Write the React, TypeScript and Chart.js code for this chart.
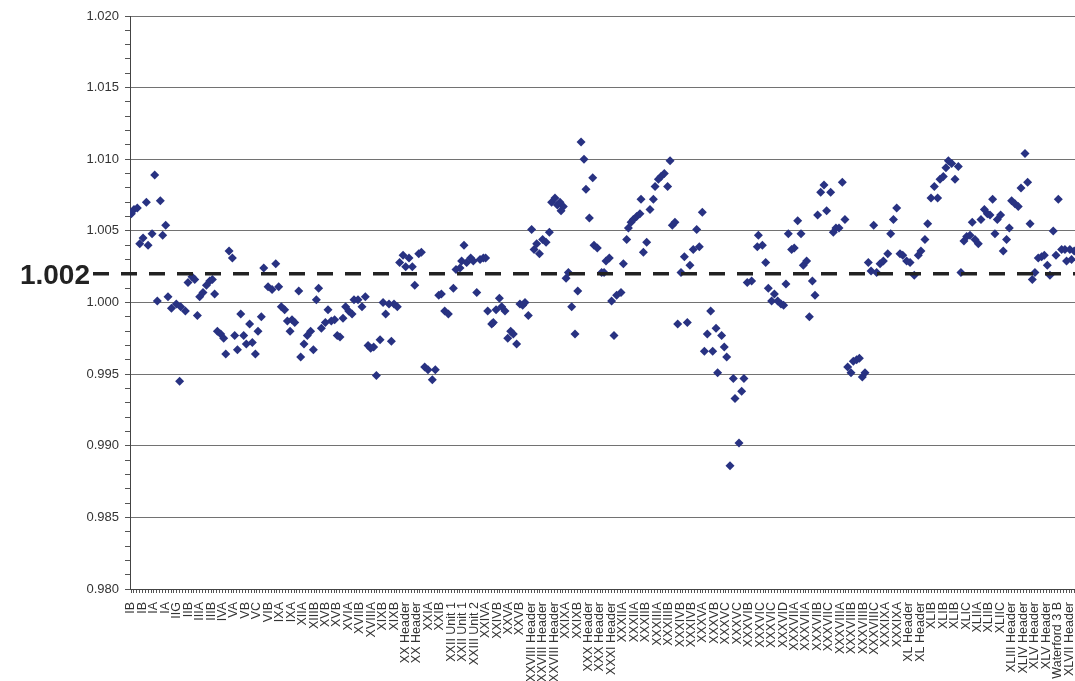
import { useEffect, useRef } from "react";
import { Chart, registerables } from "chart.js";

Chart.register(...registerables);

// Category labels along the x axis (one per labelled slot)
const categoryLabels = [
  "IB", "IB", "IA", "IA", "IIG", "IIB", "IIIA", "IIIB", "IVA", "VA",
  "VB", "VC", "VIB", "IXA", "IXA", "XIIA", "XIIIB", "XVB", "XVB", "XVIA",
  "XVIIB", "XVIIIA", "XIXB", "XIXB", "XX Header", "XX Header", "XXIA", "XXIB", "XXII Unit 1", "XXII Unit 1",
  "XXIII Unit 2", "XXIVA", "XXIVB", "XXVA", "XXVB", "XXVIII Header", "XXVIII Header", "XXVIII Header", "XXIXA", "XXIXB",
  "XXX Header", "XXX Header", "XXXI Header", "XXXIIA", "XXXIIA", "XXXIIB", "XXXIIIA", "XXXIIIB", "XXXIVB", "XXXIVB",
  "XXXVA", "XXXVB", "XXXVC", "XXXVC", "XXXVIB", "XXXVIC", "XXXVIC", "XXXVID", "XXXVIIA", "XXXVIIA",
  "XXXVIIB", "XXXVIIC", "XXXVIIIA", "XXXVIIIB", "XXXVIIIB", "XXXVIIIC", "XXXIXA", "XXXIXA", "XL Header", "XL Header",
  "XLIB", "XLIB", "XLIB", "XLIC", "XLIIA", "XLIIB", "XLIIC", "XLIII Header", "XLIV Header", "XLV Header",
  "XLV Header", "Waterford 3 B", "XLVII Header",
];

// Reference ratio drawn as the dashed line
const referenceRatio = 1.002;

// Y axis range and tick spacing
const yMin = 0.98;
const yMax = 1.02;
const yMinorStep = 0.001;

// Measurements: position along the category axis (in label slots) and ratio
const slotsUnitsI_XXI = [
  0.03, 0.26, 0.55, 1.34, 2.07, 2.56, 3.03, 2.77, 1.84, 1.05,
  0.76, 1.49, 2.30, 3.23, 3.53, 3.96, 4.34, 4.75, 4.25, 4.98,
  5.33, 5.57, 5.80, 6.00, 6.29, 6.59, 6.88, 7.11, 7.31, 7.55,
  7.84, 8.10, 8.28, 8.57, 8.86, 9.06, 9.30, 9.59, 9.85, 10.08,
  10.37, 10.60, 10.87, 11.10, 11.39, 11.60, 11.98, 12.33, 12.65, 12.91,
  13.14, 13.43, 13.67, 14.07, 14.31, 13.90, 14.66, 14.83, 15.12, 15.41,
  15.70, 15.94, 16.20, 16.40, 16.64, 16.99, 17.22, 17.51, 17.80, 18.03,
  18.27, 18.53, 18.76, 19.03, 19.32, 19.49, 19.84, 20.19, 20.48, 20.72,
  20.95, 21.21, 21.45, 21.77, 22.03, 22.26, 22.55, 22.76, 22.99, 23.28,
  23.48, 23.78, 24.01, 24.30, 24.59, 24.80, 25.15, 25.38, 25.67, 25.96,
  26.34, 26.60, 26.90, 27.13, 27.42,
];
const ratiosUnitsI_XXI = [
  1.0062, 1.0065, 1.0066, 1.0070, 1.0089, 1.0071, 1.0054, 1.0047, 1.0048, 1.0045,
  1.0041, 1.0040, 1.0001, 1.0004, 0.9996, 0.9999, 0.9997, 0.9994, 0.9945, 1.0014,
  1.0018, 1.0016, 0.9991, 1.0004, 1.0007, 1.0012, 1.0015, 1.0016, 1.0006, 0.9980,
  0.9978, 0.9975, 0.9964, 1.0036, 1.0031, 0.9977, 0.9967, 0.9992, 0.9977, 0.9971,
  0.9985, 0.9972, 0.9964, 0.9980, 0.9990, 1.0024, 1.0011, 1.0009, 1.0027, 1.0011,
  0.9997, 0.9995, 0.9987, 0.9988, 0.9986, 0.9980, 1.0008, 0.9962, 0.9971, 0.9977,
  0.9980, 0.9967, 1.0002, 1.0010, 0.9982, 0.9986, 0.9995, 0.9987, 0.9988, 0.9977,
  0.9976, 0.9989, 0.9997, 0.9994, 0.9992, 1.0002, 1.0002, 0.9997, 1.0004, 0.9970,
  0.9968, 0.9969, 0.9949, 0.9974, 1.0000, 0.9992, 0.9999, 0.9973, 0.9999, 0.9997,
  1.0028, 1.0033, 1.0025, 1.0031, 1.0025, 1.0012, 1.0034, 1.0035, 0.9955, 0.9953,
  0.9946, 0.9953, 1.0005, 1.0006, 0.9994,
];

const slotsUnitsXXI_XXXVI = [
  27.74, 28.18, 28.41, 28.76, 28.90, 29.11, 29.34, 29.69, 29.92, 30.22,
  30.51, 30.80, 31.00, 31.18, 31.53, 31.67, 31.91, 32.20, 32.40, 32.69,
  32.93, 33.19, 33.42, 33.71, 34.00, 34.24, 34.44, 34.73, 35.02, 35.23,
  35.46, 35.70, 35.98, 36.28, 36.57, 36.77, 37.06, 37.27, 37.50, 37.79,
  37.59, 38.03, 38.23, 38.52, 38.81, 39.05, 39.34, 39.60, 39.77, 40.36,
  40.07, 40.47, 40.76, 41.14, 41.35, 41.52, 41.81, 42.01, 42.22, 42.45,
  42.83, 43.04, 43.33, 43.48, 43.71, 43.91, 44.20, 44.49, 44.58, 44.79,
  45.08, 45.37, 45.66, 45.81, 46.10, 46.33, 46.62, 46.91, 47.12, 47.32,
  47.55, 47.79, 48.08, 48.37, 48.63, 48.86, 49.15, 49.45, 49.68, 49.94,
  50.12, 50.38, 50.67, 50.85, 51.14, 51.28, 51.63, 51.86, 52.07, 52.36,
  52.65, 52.80, 53.15, 53.38, 53.58, 53.87, 54.25, 54.75, 54.84,
];
const ratiosUnitsXXI_XXXVI = [
  0.9992, 1.0010, 1.0023, 1.0024, 1.0029, 1.0040, 1.0028, 1.0031, 1.0029, 1.0007,
  1.0030, 1.0031, 1.0031, 0.9994, 0.9985, 0.9986, 0.9995, 1.0003, 0.9997, 0.9994,
  0.9975, 0.9980, 0.9978, 0.9971, 0.9999, 0.9998, 1.0000, 0.9991, 1.0051, 1.0037,
  1.0041, 1.0034, 1.0044, 1.0042, 1.0049, 1.0070, 1.0073, 1.0068, 1.0070, 1.0067,
  1.0064, 1.0017, 1.0021, 0.9997, 0.9978, 1.0008, 1.0112, 1.0100, 1.0079, 1.0087,
  1.0059, 1.0040, 1.0038, 1.0021, 1.0021, 1.0029, 1.0031, 1.0001, 0.9977, 1.0005,
  1.0007, 1.0027, 1.0044, 1.0052, 1.0056, 1.0058, 1.0060, 1.0062, 1.0072, 1.0035,
  1.0042, 1.0065, 1.0072, 1.0081, 1.0086, 1.0088, 1.0090, 1.0081, 1.0099, 1.0054,
  1.0056, 0.9985, 1.0021, 1.0032, 0.9986, 1.0026, 1.0037, 1.0051, 1.0039, 1.0063,
  0.9966, 0.9978, 0.9994, 0.9966, 0.9982, 0.9951, 0.9977, 0.9969, 0.9962, 0.9886,
  0.9947, 0.9933, 0.9902, 0.9938, 0.9947, 1.0014, 1.0015, 1.0039, 1.0047,
];

const slotsUnitsXXXVI_XLVII = [
  55.19, 55.48, 55.71, 56.00, 56.24, 56.53, 56.82, 57.05, 57.25, 57.46,
  57.75, 57.98, 58.28, 58.57, 58.77, 59.06, 59.30, 59.56, 59.79, 60.02,
  60.29, 60.58, 60.81, 61.16, 61.39, 61.62, 61.89, 62.18, 62.41, 62.65,
  62.94, 63.14, 63.43, 63.67, 63.93, 64.16, 64.45, 64.69, 64.92, 65.18,
  65.48, 65.77, 66.15, 66.41, 66.65, 66.93, 67.22, 67.46, 67.80, 68.10,
  68.47, 68.82, 69.05, 69.40, 69.64, 69.93, 70.22, 70.51, 70.72, 71.01,
  71.24, 71.45, 71.74, 72.03, 72.32, 72.55, 72.81, 73.05, 73.34, 73.54,
  73.78, 74.07, 74.30, 74.60, 74.86, 75.09, 75.32, 75.52, 75.73, 76.02,
  76.25, 76.54, 76.78, 76.98, 77.27, 77.56, 77.80, 78.15, 78.38, 78.59,
  78.79, 79.02, 79.31, 79.60, 79.84, 80.10, 80.33, 80.62, 80.86, 81.06,
  81.35, 81.64, 81.78, 82.07, 82.22, 82.45,
];
const ratiosUnitsXXXVI_XLVII = [
  1.0040, 1.0028, 1.0010, 1.0001, 1.0006, 1.0001, 0.9999, 0.9998, 1.0013, 1.0048,
  1.0037, 1.0038, 1.0057, 1.0048, 1.0026, 1.0029, 0.9990, 1.0015, 1.0005, 1.0061,
  1.0077, 1.0082, 1.0064, 1.0077, 1.0049, 1.0052, 1.0052, 1.0084, 1.0058, 0.9955,
  0.9951, 0.9959, 0.9960, 0.9961, 0.9948, 0.9951, 1.0028, 1.0022, 1.0054, 1.0021,
  1.0027, 1.0029, 1.0034, 1.0048, 1.0058, 1.0066, 1.0034, 1.0033, 1.0029, 1.0028,
  1.0019, 1.0033, 1.0036, 1.0044, 1.0055, 1.0073, 1.0081, 1.0073, 1.0086, 1.0088,
  1.0094, 1.0099, 1.0097, 1.0086, 1.0095, 1.0021, 1.0043, 1.0046, 1.0047, 1.0056,
  1.0044, 1.0041, 1.0058, 1.0065, 1.0062, 1.0061, 1.0072, 1.0048, 1.0058, 1.0061,
  1.0036, 1.0044, 1.0052, 1.0071, 1.0069, 1.0067, 1.0080, 1.0104, 1.0084, 1.0055,
  1.0016, 1.0021, 1.0031, 1.0032, 1.0033, 1.0026, 1.0019, 1.0050, 1.0033, 1.0072,
  1.0037, 1.0037, 1.0029, 1.0037, 1.0030, 1.0036,
];

const FONT_FAMILY = 'Arial, "Liberation Sans", Helvetica, sans-serif';
const MARKER_COLOR = "#283282";

// Labels and gridlines every 0.005; minor tick marks every 0.001
const isMajor = (v: number) => Math.round(v * 1000) % 5 === 0;

// Dashed reference line with its bold value label at the left margin
const referenceLinePlugin = {
  id: "referenceLine",
  afterDatasetsDraw(chart: any) {
    const { ctx, chartArea, scales } = chart;
    const y = scales.y.getPixelForValue(referenceRatio);
    ctx.save();
    ctx.strokeStyle = "#222";
    ctx.lineWidth = 3.5;
    ctx.setLineDash([16, 12]);
    ctx.beginPath();
    ctx.moveTo(chartArea.left - 37, y);
    ctx.lineTo(chartArea.right, y);
    ctx.stroke();
    ctx.setLineDash([]);
    ctx.fillStyle = "#222";
    ctx.font = `bold 28px ${FONT_FAMILY}`;
    ctx.textAlign = "right";
    ctx.textBaseline = "alphabetic";
    ctx.fillText(referenceRatio.toFixed(3), chartArea.left - 40, y + 10);
    ctx.restore();
  },
};

export default function App() {
  const canvasRef = useRef<HTMLCanvasElement>(null);

  useEffect(() => {
    const points: { x: number; y: number }[] = [];
    const groups: [number[], number[]][] = [
      [slotsUnitsI_XXI, ratiosUnitsI_XXI],
      [slotsUnitsXXI_XXXVI, ratiosUnitsXXI_XXXVI],
      [slotsUnitsXXXVI_XLVII, ratiosUnitsXXXVI_XLVII],
    ];
    for (const [xs, ys] of groups) {
      xs.forEach((x, i) => points.push({ x, y: ys[i] }));
    }

    const chart = new Chart(canvasRef.current!, {
      type: "scatter",
      data: {
        datasets: [
          {
            data: points,
            pointStyle: "rectRot",
            pointRadius: 4.5,
            pointBorderWidth: 0,
            backgroundColor: MARKER_COLOR,
            borderColor: MARKER_COLOR,
          },
        ],
      },
      options: {
        animation: false,
        responsive: false,
        maintainAspectRatio: false,
        layout: {
          autoPadding: false,
          padding: { top: 16, left: 0, right: 0, bottom: 0 },
        },
        plugins: {
          legend: { display: false },
          tooltip: { enabled: false },
        },
        scales: {
          x: {
            type: "linear",
            min: -0.09,
            max: 82.52,
            afterFit(scale: any) {
              scale.height = 92;
              scale.paddingLeft = 0;
              scale.paddingRight = 0;
            },
            ticks: {
              stepSize: 0.25,
              includeBounds: false,
              autoSkip: false,
              minRotation: 90,
              maxRotation: 90,
              padding: 9,
              color: "#333",
              font: { family: FONT_FAMILY, size: 12.5 },
              callback: (v: any) =>
                Number.isInteger(v) ? categoryLabels[v] ?? "" : "",
            },
            grid: {
              drawOnChartArea: false,
              drawTicks: true,
              tickLength: 4,
              tickColor: "#555",
            },
            border: { color: "#444", width: 1 },
          },
          y: {
            min: yMin,
            max: yMax,
            afterFit(scale: any) {
              scale.width = 130;
              scale.paddingTop = 0;
              scale.paddingBottom = 0;
            },
            ticks: {
              stepSize: yMinorStep,
              autoSkip: false,
              padding: 6,
              color: "#333",
              font: { family: FONT_FAMILY, size: 13 },
              callback: (v: any) => (isMajor(v) ? Number(v).toFixed(3) : ""),
            },
            grid: {
              color: (ctx: any) =>
                ctx.tick && isMajor(ctx.tick.value) ? "#727272" : "rgba(0,0,0,0)",
              lineWidth: 1,
              tickColor: "#555",
              tickLength: 5,
            },
            border: { color: "#444", width: 1 },
          },
        },
      },
      plugins: [referenceLinePlugin],
    });

    return () => chart.destroy();
  }, []);

  return (
    <div
      style={{
        position: "fixed",
        left: 0,
        top: 0,
        width: 1075,
        height: 681,
        background: "#fff",
      }}
    >
      <canvas ref={canvasRef} width={1075} height={681} />
    </div>
  );
}
